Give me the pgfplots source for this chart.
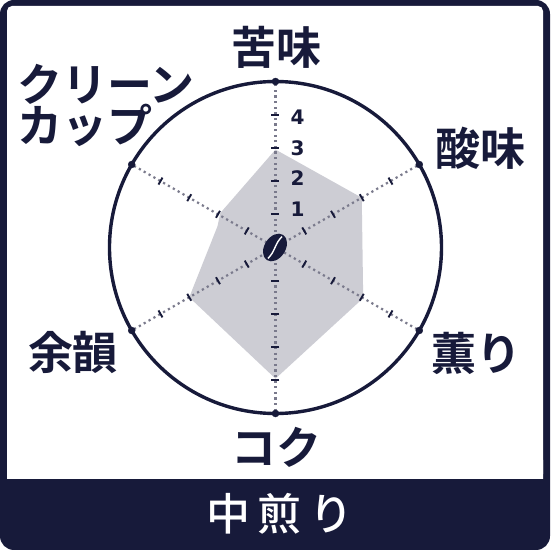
\documentclass[border=0pt]{standalone}
\usepackage{fontspec}
\usepackage{pgfplots}
\pgfplotsset{compat=1.18}
\usepgfplotslibrary{polar}
\setmainfont{DejaVu Sans}
\newfontfamily\cjkm{Noto Sans CJK JP Medium}
\newfontfamily\cjkb{Noto Sans CJK JP Bold}
\definecolor{navy}{HTML}{171A3A}
\definecolor{shade}{HTML}{CDCDD4}
\definecolor{spokegray}{HTML}{7A7A8C}

\pgfplotsset{
  spokeline/.style={color=spokegray, line width=2.2pt, dash pattern=on 2.2pt off 3.4pt, forget plot},
  tk/.style={only marks, forget plot, mark=|, mark size=4pt,
    mark options={navy, line width=1.9pt, solid, rotate=#1}},
}

\begin{document}
\begin{tikzpicture}[x=1pt,y=1pt]
\path[use as bounding box] (0,0) rectangle (550,550);
\fill[navy, rounded corners=14pt] (0,0) rectangle (550,550);
\fill[white, rounded corners=5pt] (7,71) |- (543,544) -- (543,71) -- cycle;
\fill[white] (7,71) rectangle (20,90) (530,71) rectangle (543,90);

\begin{polaraxis}[
    at={(275.5pt,302.5pt)}, anchor=center,
    scale only axis, width=332pt, height=332pt,
    ymin=0, ymax=5, xmin=0, xmax=360,
    xtick=\empty, ytick=\empty,
    clip=false,
    separate axis lines,
    x axis line style={navy, line width=3.4pt},
    y axis line style={draw=none},
]
% profile
\addplot[fill=shade, draw=none, forget plot] coordinates {
  (90,2.95)(30,3)(-30,3.05)(-90,3.95)(-150,3)(160,1.86)(148,1.96)
} --cycle;
% spokes
\addplot[spokeline] coordinates {(90,0.3)(90,5)};
\addplot[spokeline] coordinates {(30,0.3)(30,5)};
\addplot[spokeline] coordinates {(-30,0.3)(-30,5)};
\addplot[spokeline] coordinates {(-90,0.3)(-90,5)};
\addplot[spokeline] coordinates {(-150,0.3)(-150,5)};
\addplot[spokeline] coordinates {(150,0.3)(150,5)};
% scale ticks
\addplot[tk=90] coordinates {(90,1)(90,2)(90,3)(90,4)};
\addplot[tk=30] coordinates {(30,1)(30,2)(30,3)(30,4)};
\addplot[tk=-30] coordinates {(-30,1)(-30,2)(-30,3)(-30,4)};
\addplot[tk=-90] coordinates {(-90,1)(-90,2)(-90,3)(-90,4)};
\addplot[tk=-150] coordinates {(-150,1)(-150,2)(-150,3)(-150,4)};
\addplot[tk=150] coordinates {(150,1)(150,2)(150,3)(150,4)};
% end dots
\addplot[only marks, mark=*, mark size=3.5pt, navy, forget plot] coordinates {
  (90,5)(30,5)(-30,5)(-90,5)(-150,5)(150,5)};
\end{polaraxis}

% scale numbers
\foreach \n/\yy in {1/341,2/372,3/402,4/433}
  \node[navy, font=\fontsize{20}{20}\selectfont\bfseries] at (297.5,\yy) {\n};

% bean
\begin{scope}[shift={(275,302.5)}, rotate=-33]
  \fill[navy] (0,0) ellipse (10.5 and 15);
  \draw[white, line width=1.4pt] (0,13) .. controls (-2.5,4) and (2.5,-4) .. (0,-13);
\end{scope}

% axis names
\begin{scope}[navy, font=\cjkb\fontsize{45}{45}\selectfont]
  \node at (276,503) {苦味};
  \node at (480,402) {酸味};
  \node at (476,197) {薫り};
  \node at (276,103) {コク};
  \node at (73,198) {余韻};
  \node[anchor=west, inner sep=0pt] at (17,466) {クリーン};
  \node[anchor=west, inner sep=0pt] at (17,425) {カップ};
\end{scope}

% roast level
\begin{scope}[white, font=\cjkm\fontsize{44}{44}\selectfont]
  \node at (228.5,36) {中};
  \node at (279,36) {煎};
  \node at (331,36) {り};
\end{scope}
\end{tikzpicture}
\end{document}
